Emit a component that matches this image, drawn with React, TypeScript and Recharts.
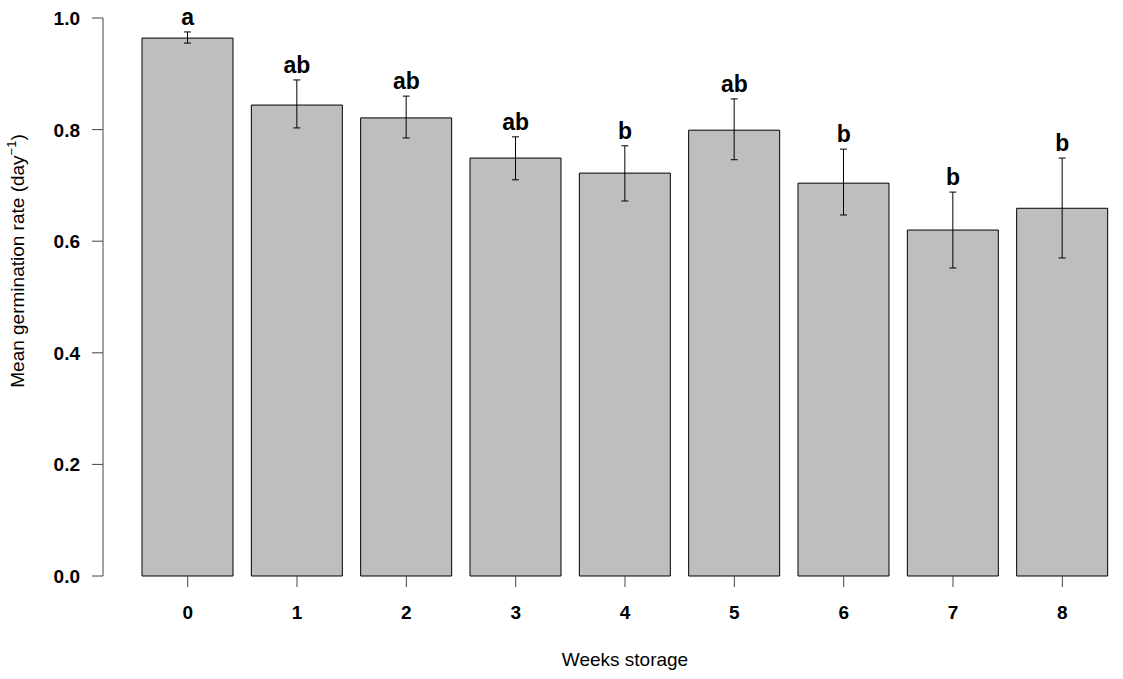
import React from 'react';
import { XAxis, YAxis, Bar, ErrorBar, Line, LabelList, ComposedChart } from 'recharts';

// weeks of storage
const weeks = ['0', '1', '2', '3', '4', '5', '6', '7', '8'];
// mean germination rate (day^-1)
const means = [0.964, 0.844, 0.821, 0.749, 0.722, 0.799, 0.704, 0.620, 0.659];
// error bar ends
const upper = [0.975, 0.889, 0.860, 0.787, 0.771, 0.855, 0.765, 0.688, 0.749];
const lower = [0.955, 0.803, 0.785, 0.710, 0.672, 0.746, 0.647, 0.552, 0.570];
// significance groups
const letters = ['a', 'ab', 'ab', 'ab', 'b', 'ab', 'b', 'b', 'b'];
const yTicks = [0, 0.2, 0.4, 0.6, 0.8, 1.0];

const data = weeks.map((w, i) => ({
  week: w,
  mean: means[i],
  err: [means[i] - lower[i], upper[i] - means[i]],
  upper: upper[i],
  letter: letters[i],
}));

const font = 'Arial, "Liberation Sans", sans-serif';

const XTick = (props: any) => {
  const { x, y, payload } = props;
  return (
    <text x={x} y={y + 32} textAnchor="middle" fontFamily={font} fontSize={19} fontWeight="bold" fill="#000">
      {payload.value}
    </text>
  );
};

const YTick = (props: any) => {
  const { x, y, payload } = props;
  return (
    <text x={x} y={y + 7} textAnchor="end" fontFamily={font} fontSize={19} fontWeight="bold" fill="#000">
      {payload.value.toFixed(1)}
    </text>
  );
};

const LetterLabel = (props: any) => {
  const { x, y, index } = props;
  return (
    <text x={x} y={y - 7} textAnchor="middle" fontFamily={font} fontSize={23} fontWeight="bold" fill="#000">
      {letters[index]}
    </text>
  );
};

export default function App() {
  return (
    <div style={{ position: 'absolute', left: 0, top: 0, background: '#fff' }}>
      <ComposedChart
        width={1123}
        height={679}
        data={data}
        margin={{ top: 18, right: 6, bottom: 0, left: 0 }}
        barCategoryGap={9}
      >
        <XAxis
          dataKey="week"
          axisLine={false}
          tickSize={11}
          tickMargin={0}
          tickLine={{ stroke: '#444' }}
          height={103}
          padding={{ left: 30, right: 0 }}
          tick={<XTick />}
          interval={0}
          label={{
            content: () => (
              <text x={625} y={666} textAnchor="middle" fontFamily={font} fontSize={19} fill="#000">
                Weeks storage
              </text>
            ),
          }}
        />
        <YAxis
          width={103}
          domain={[0, 1]}
          ticks={yTicks}
          axisLine={{ stroke: '#444' }}
          tickLine={{ stroke: '#444' }}
          tickSize={11}
          tickMargin={12}
          tick={<YTick />}
          label={{
            content: () => (
              <text
                x={24}
                y={261}
                textAnchor="middle"
                transform="rotate(-90, 24, 261)"
                fontFamily={font}
                fontSize={19}
                fill="#000"
              >
                Mean germination rate (day
                <tspan fontSize={13} dy={-8}>−1</tspan>
                <tspan dy={8}>)</tspan>
              </text>
            ),
          }}
        />
        <Bar dataKey="mean" fill="#bebebe" stroke="#000" strokeWidth={1} isAnimationActive={false}>
          <ErrorBar dataKey="err" width={3.5} stroke="#000" strokeWidth={1} isAnimationActive={false} />
        </Bar>
        <Line
          dataKey="upper"
          stroke="none"
          dot={false}
          activeDot={false}
          legendType="none"
          isAnimationActive={false}
        >
          <LabelList dataKey="letter" content={<LetterLabel />} />
        </Line>
      </ComposedChart>
    </div>
  );
}
